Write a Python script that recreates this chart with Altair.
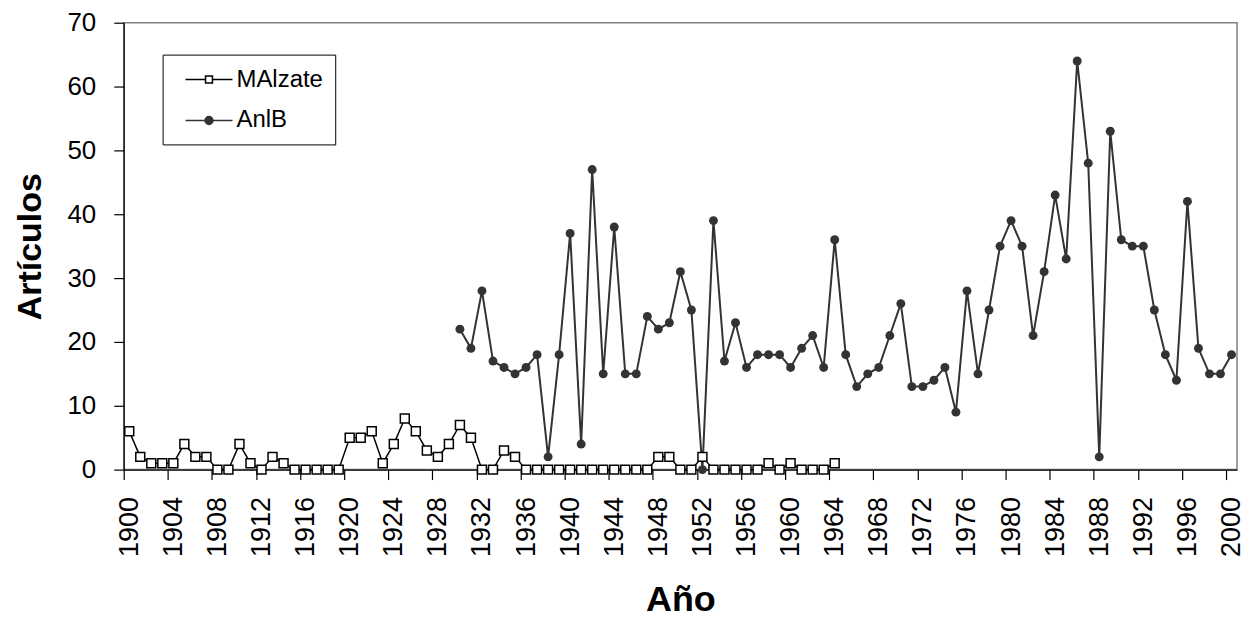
import altair as alt
import pandas as pd

# ---- data ----
series = ["MAlzate", "AnlB"]
malzate_start = 1900
malzate = [6, 2, 1, 1, 1, 4, 2, 2, 0, 0,
           4, 1, 0, 2, 1, 0, 0, 0, 0, 0,
           5, 5, 6, 1, 4, 8, 6, 3, 2, 4,
           7, 5, 0, 0, 3, 2, 0, 0, 0, 0,
           0, 0, 0, 0, 0, 0, 0, 0, 2, 2,
           0, 0, 2, 0, 0, 0, 0, 0, 1, 0,
           1, 0, 0, 0, 1]
anlb_start = 1930
anlb = [22, 19, 28, 17, 16, 15, 16, 18, 2, 18,
        37, 4, 47, 15, 38, 15, 15, 24, 22, 23,
        31, 25, 0, 39, 17, 23, 16, 18, 18, 18,
        16, 19, 21, 16, 36, 18, 13, 15, 16, 21,
        26, 13, 13, 14, 16, 9, 28, 15, 25, 35,
        39, 35, 21, 31, 43, 33, 64, 48, 2, 53,
        36, 35, 35, 25, 18, 14, 42, 19, 15, 15,
        18]
x_labels = list(range(1900, 2001, 4))
y_ticks = list(range(0, 71, 10))

rows = []
for i, v in enumerate(malzate):
    rows.append({"year": malzate_start + i, "value": v, "series": "MAlzate"})
for i, v in enumerate(anlb):
    rows.append({"year": anlb_start + i, "value": v, "series": "AnlB"})
df = pd.DataFrame(rows)

FONT = "Liberation Sans"
W, H = 1116, 448
half = W / 101 / 2

x_enc = alt.X(
    "year:Q",
    scale=alt.Scale(domain=[1899.5, 2000.5], nice=False, zero=False),
    axis=alt.Axis(
        values=x_labels, format="d", labelAngle=-90, tickOffset=-half, labelOffset=half,
        title="Año", titleFontSize=36, titleFontWeight="bold", titlePadding=26,
        labelFontSize=27, tickSize=10, labelPadding=17, grid=False,
    ),
)
y_enc = alt.Y(
    "value:Q",
    scale=alt.Scale(domain=[0, 70], nice=False),
    axis=alt.Axis(
        values=y_ticks, title="Artículos", titleFontSize=34, titleFontWeight="bold",
        titlePadding=19, labelFontSize=26, tickSize=10, labelPadding=18, grid=False,
    ),
)

base = alt.Chart(df).encode(x=x_enc, y=y_enc)

a_line = base.transform_filter(alt.datum.series == "AnlB").mark_line(color="#333333", strokeWidth=2)
a_pts = base.transform_filter(alt.datum.series == "AnlB").mark_point(
    shape="circle", filled=True, color="#333333", size=80, opacity=1)
m_line = base.transform_filter(alt.datum.series == "MAlzate").mark_line(color="black", strokeWidth=1.5)
m_pts = base.transform_filter(alt.datum.series == "MAlzate").mark_point(
    shape="square", filled=True, fill="white", stroke="black", strokeWidth=1.5, size=80, opacity=1)

path_m = "M-0.17,0H1.5M2.08,0H3.75M1.5,-0.29H2.08V0.29H1.5Z"
path_a = "M-0.17,0H3.75M2.12,0A0.33,0.33 0 1,1 1.46,0A0.33,0.33 0 1,1 2.12,0Z"

leg = alt.Legend(
    title=None, orient="none", legendX=39, legendY=32, padding=12,
    strokeColor="black", fillColor="white", symbolSize=576, symbolStrokeWidth=1.5,
    symbolOpacity=1, rowPadding=16, labelOffset=36, labelFontSize=24,
    labelFont=FONT, labelColor="black",
)
legend_layer = base.mark_point(filled=True, opacity=0).encode(
    shape=alt.Shape("series:N", scale=alt.Scale(domain=series, range=[path_m, path_a]), legend=leg),
    fill=alt.Fill("series:N", scale=alt.Scale(domain=series, range=["white", "#333333"]), legend=leg),
    stroke=alt.Stroke("series:N", scale=alt.Scale(domain=series, range=["black", "#333333"]), legend=leg),
)

chart = alt.layer(a_line, a_pts, m_line, m_pts, legend_layer).properties(
    width=W, height=H,
    autosize=alt.AutoSizeParams(type="none"),
    padding={"left": 116, "top": 14, "right": 10, "bottom": 148},
).configure(font=FONT).configure_view(
    stroke="#808080", strokeWidth=1.5
).configure_axis(
    domainColor="black", tickColor="black", labelColor="black", titleColor="black",
    labelFont=FONT, titleFont=FONT, domainWidth=1.2, tickWidth=1.2,
)

chart.save("out.html", embed_options={"renderer": "svg", "actions": False})
